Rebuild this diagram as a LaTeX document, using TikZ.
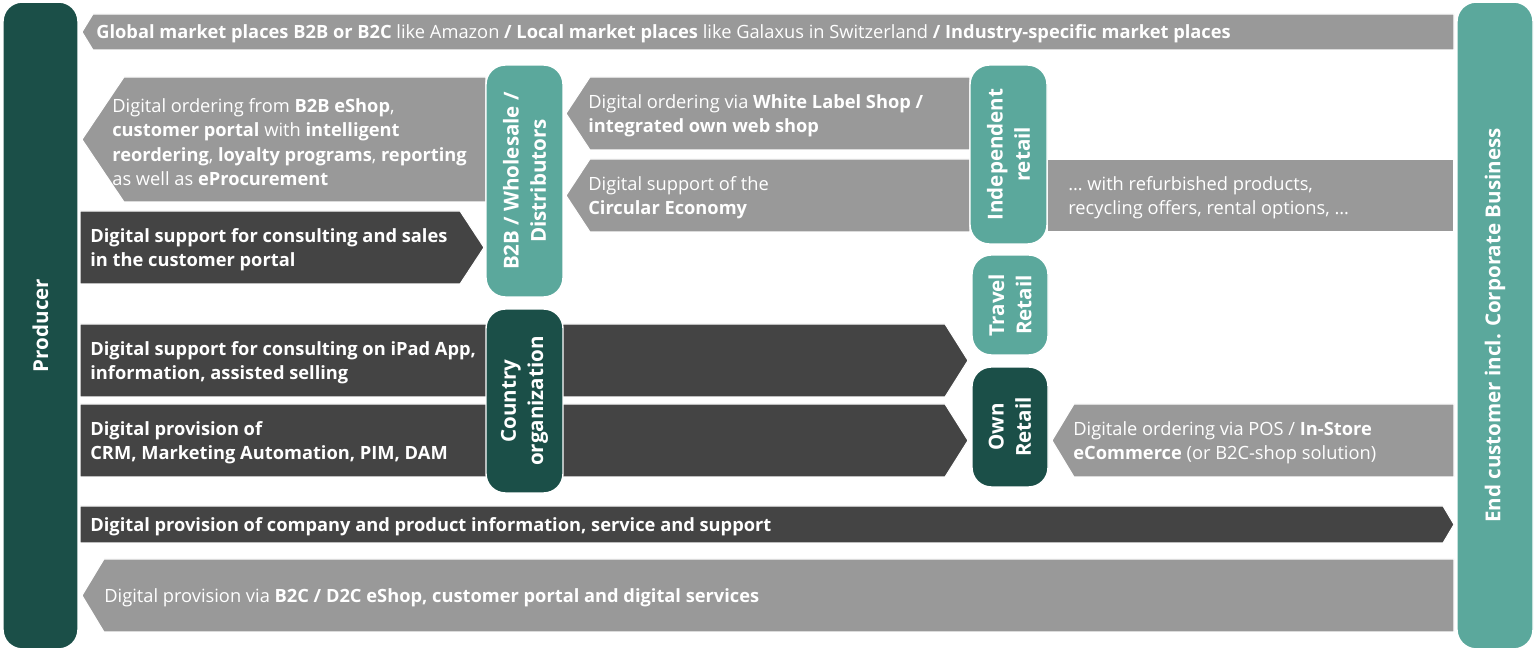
\documentclass[tikz,border=0pt]{standalone}
\usepackage{fontspec}
\setmainfont{Open Sans}
\usetikzlibrary{positioning}
\definecolor{lanegrey}{HTML}{999999}
\definecolor{lanedark}{HTML}{444444}
\definecolor{boxdark}{HTML}{1B4F48}
\definecolor{boxteal}{HTML}{5BA89C}

\begin{document}
\begin{tikzpicture}[x=0.02cm,y=-0.02cm,
    lane/.style={draw=white,line width=0.6pt},
    greylane/.style={lane,fill=lanegrey},
    darklane/.style={lane,fill=lanedark},
    lanetext/.style={anchor=west,align=left,text=white,inner sep=0pt,
                     font=\fontsize{10.4}{13.8}\selectfont},
    boldtext/.style={lanetext,font=\fontsize{10.4}{13.8}\selectfont\bfseries},
    actor/.style={draw=white,line width=0.8pt,rounded corners=11pt,rotate=90,
                  inner sep=0pt,text=white,align=center,
                  font=\fontsize{11.7}{15.5}\selectfont\bfseries}]
  \useasboundingbox (0,0) rectangle (1536,651);

  % lanes
  \fill[greylane] (1454,14) -- (93,14) -- (82,32) -- (93,50) -- (1454,50) -- cycle;
  \fill[greylane] (486,77) -- (124,77) -- (82,139.5) -- (124,202) -- (486,202) -- cycle;
  \fill[darklane] (80,211) -- (460,211) -- (484,247.5) -- (460,284) -- (80,284) -- cycle;
  \fill[greylane] (970,77) -- (590,77) -- (566,113.5) -- (590,150) -- (970,150) -- cycle;
  \fill[greylane] (970,159) -- (590,159) -- (566,195.5) -- (590,232) -- (970,232) -- cycle;
  \fill[greylane] (1047,159) rectangle (1454,232);
  \fill[darklane] (80,324) -- (945,324) -- (968,360.5) -- (945,397) -- (80,397) -- cycle;
  \fill[darklane] (80,404) -- (945,404) -- (968,440.5) -- (945,477) -- (80,477) -- cycle;
  \fill[greylane] (1454,404) -- (1074,404) -- (1052,440.5) -- (1074,477) -- (1454,477) -- cycle;
  \fill[darklane] (80,506) -- (1443,506) -- (1454,524.5) -- (1443,543) -- (80,543) -- cycle;
  \fill[greylane] (1454,559) -- (104,559) -- (82,595.5) -- (104,632) -- (1454,632) -- cycle;

  % actors
  \node[actor,fill=boxdark,minimum width=12.94cm,minimum height=1.5cm]  (producer) at (40.5,325.5) {Producer};
  \node[actor,fill=boxteal,minimum width=12.94cm,minimum height=1.52cm] (endcust)  at (1495,325.5) {End customer incl. Corporate Business};
  \node[actor,fill=boxteal,minimum width=4.64cm,minimum height=1.54cm]  (b2b)      at (524.5,181) {B2B / Wholesale /\\Distributors};
  \node[actor,fill=boxdark,minimum width=3.68cm,minimum height=1.54cm]  (country)  at (524.5,401) {Country\\organization};
  \node[actor,fill=boxteal,minimum width=3.58cm,minimum height=1.54cm]  (indep)    at (1008.5,154.5) {Independent\\retail};
  \node[actor,fill=boxteal,minimum width=2.0cm,minimum height=1.52cm]   (travel)   at (1010,305) {Travel\\Retail};
  \node[actor,fill=boxdark,minimum width=2.4cm,minimum height=1.52cm]   (own)      at (1010,427) {Own\\Retail};

  % lane texts
  \node[lanetext] (market) at (96,34) {\textbf{Global market places B2B or B2C} like Amazon \textbf{/ Local market places} like Galaxus in Switzerland \textbf{/ Industry-specific market places}};
  \node[lanetext] (eshop) at (112,142) {Digital ordering from \textbf{B2B eShop},\\\textbf{customer portal} with \textbf{intelligent}\\\textbf{reordering}, \textbf{loyalty programs}, \textbf{reporting}\\as well as \textbf{eProcurement}};
  \node[boldtext] (consult) at (90,250) {Digital support for consulting and sales\\in the customer portal};
  \node[lanetext] (whitelabel) at (588,116) {Digital ordering via \textbf{White Label Shop /}\\\textbf{integrated own web shop}};
  \node[lanetext] (circular) at (588,198) {Digital support of the\\\textbf{Circular Economy}};
  \node[lanetext] (refurb) at (1068,198) {… with refurbished products,\\recycling offers, rental options, …};
  \node[boldtext] (ipad) at (90,363) {Digital support for consulting on iPad App,\\information, assisted selling};
  \node[boldtext] (crm) at (90,443) {Digital provision of\\CRM, Marketing Automation, PIM, DAM};
  \node[lanetext] (pos) at (1073,443) {Digitale ordering via POS / \textbf{In-Store}\\\textbf{eCommerce} (or B2C-shop solution)};
  \node[boldtext] (company) at (90,527) {Digital provision of company and product information, service and support};
  \node[lanetext] (b2c) at (104,598) {Digital provision via \textbf{B2C / D2C eShop, customer portal and digital services}};
\end{tikzpicture}
\end{document}
